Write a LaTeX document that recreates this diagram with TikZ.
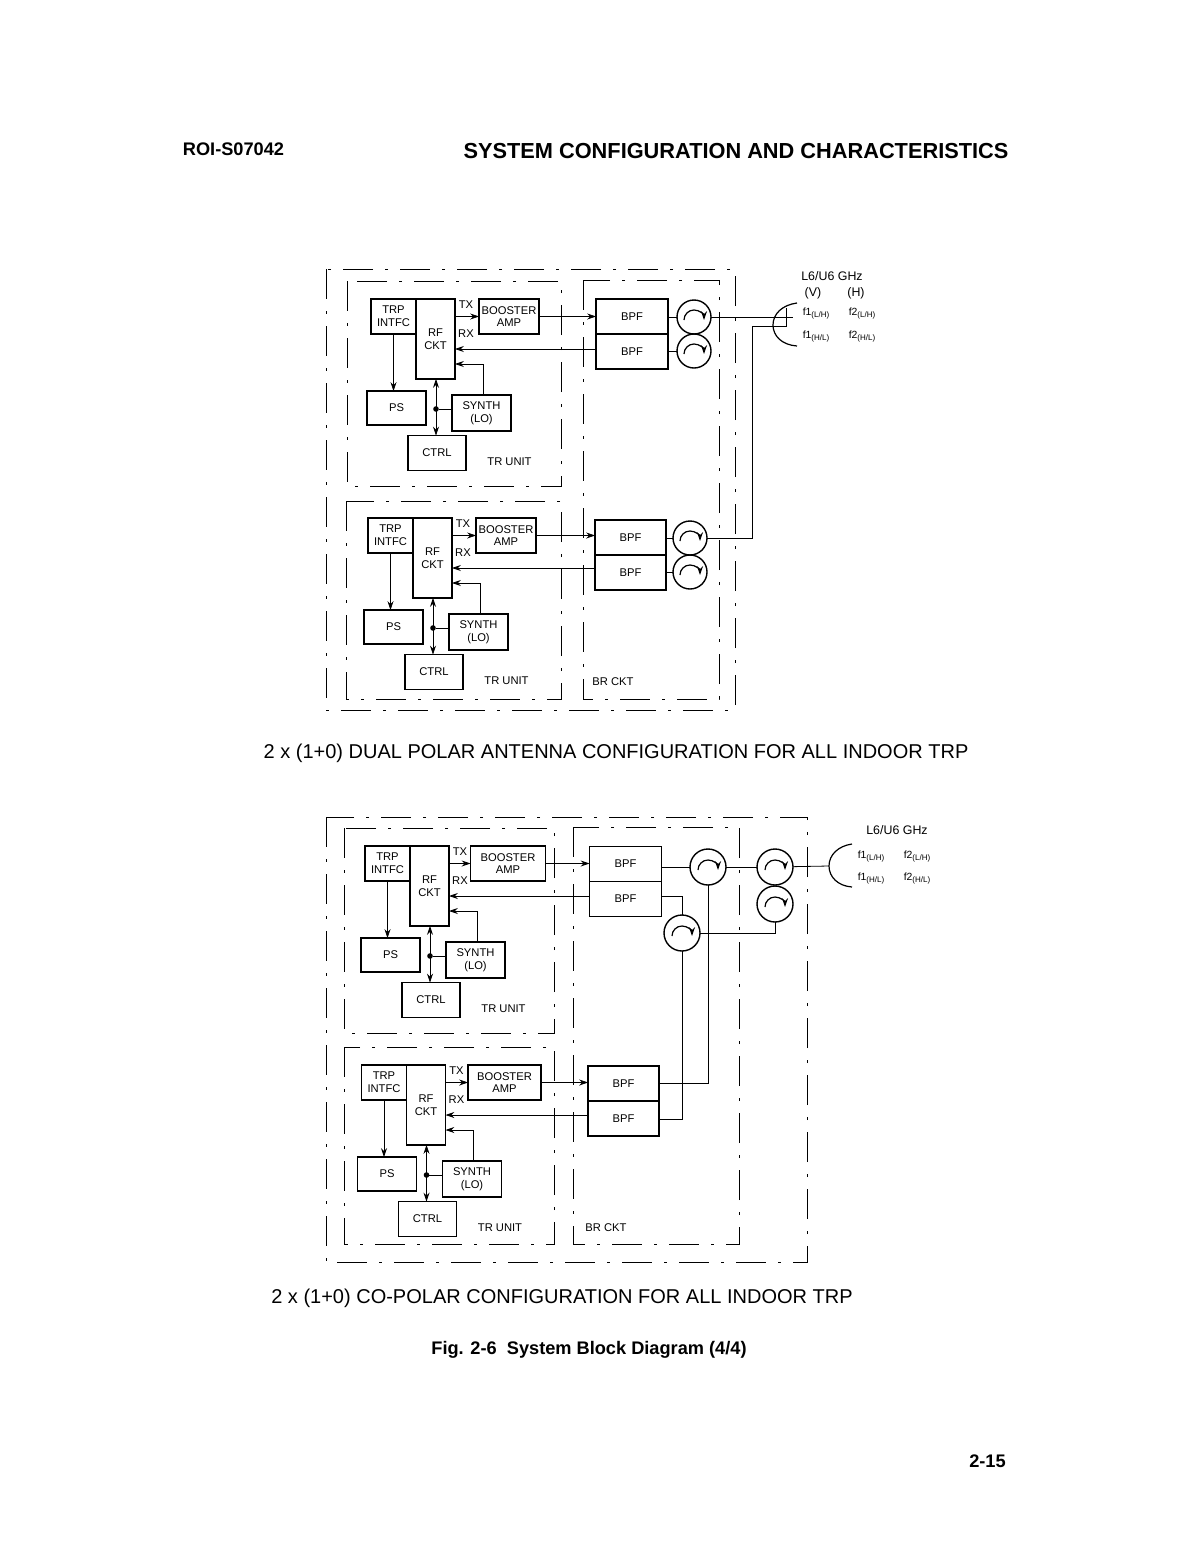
\documentclass[tikz,border=0pt]{standalone}
\usepackage{fontspec}
\setmainfont{Liberation Sans}
\usepackage{xcolor}
\usetikzlibrary{arrows.meta,calc}
\newcommand{\fsub}[2]{#1\raisebox{-1pt}{\fontsize{4}{5}\selectfont #2}}
\begin{document}
\begin{tikzpicture}[
  x=0.5pt, y=-0.5pt,
  >={Stealth[length=4.4pt,width=3pt]},
  every node/.style={inner sep=0pt, outer sep=0pt},
  box/.style={draw, line width=0.9pt, align=center, font=\fontsize{5.6}{6.4}\selectfont},
  filt/.style={box, minimum width=#1*0.5pt, minimum height=17.5pt},
  circu/.style={draw, circle, line width=0.7pt, minimum size=#1*1pt},
  dot/.style={fill, circle, minimum size=2.8pt},
  frame/.style={line width=0.45pt, dash pattern=on 15pt off 6pt on 1.5pt off 6pt},
  lab/.style={font=\fontsize{5.6}{6.4}\selectfont},
  freq/.style={font=\fontsize{5.2}{6}\selectfont},
  band/.style={font=\fontsize{6.2}{7}\selectfont},
  captext/.style={font=\fontsize{10}{11}\selectfont},
  headtext/.style={font=\bfseries\fontsize{9.1}{10}\selectfont},
  arr/.style={->},
  darr/.style={<->},
]
  \useasboundingbox (0,0) rectangle (1190,1563);

  % page texts
  \node[headtext] (docno) at (233.5,149) {ROI-S07042};
  \node[headtext, font=\bfseries\fontsize{10.88}{12}\selectfont] (title) at (736,151) {SYSTEM CONFIGURATION AND CHARACTERISTICS};
  \node[captext] (capa) at (616,753) {2 x (1+0) DUAL POLAR ANTENNA CONFIGURATION FOR ALL INDOOR TRP};
  \node[captext] (capb) at (562,1298) {2 x (1+0) CO-POLAR CONFIGURATION FOR ALL INDOOR TRP};
  \node[headtext] (fig) at (589,1350) {Fig. 2-6\ \ System Block Diagram (4/4)};
  \node[headtext] (pageno) at (987.5,1461) {2-15};

  % frames
  \draw[frame] (326,269) rectangle (735,710);
  \draw[frame] (347,281) rectangle (561,486);
  \draw[frame] (346,501) rectangle (561,699);
  \draw[frame] (583,280) rectangle (719,699);
  \draw[frame] (326,817) rectangle (807,1262);
  \draw[frame] (344,828) rectangle (554,1033);
  \draw[frame] (344,1047) rectangle (554,1244);
  \draw[frame] (573,827) rectangle (739,1244);

  % TR units with their BPF pairs
  \foreach \u/\dx/\dy/\bx/\bw/\fx/\fy/\fw in {
    a/0/0/509/60/632/316.5/72,
    b/-3/219/509/60/630.5/537.5/71,
    c/-6/547/514/75/625.5/864/72,
    d/-9.5/766/514/73/623.5/1083.5/71} {
    \begin{scope}[shift={(\dx,\dy)}]
      \node[box, minimum width=22.5pt, minimum height=17.5pt] (\u-trp) at (393.5,316.5) {TRP\\INTFC};
      \node[box, minimum width=19.5pt, minimum height=40pt] (\u-rf) at (435.5,339) {RF\\CKT};
      \node[box, minimum width=\bw*0.5pt, minimum height=17.5pt] (\u-boost) at (\bx,316.5) {BOOSTER\\AMP};
      \node[box, minimum width=29.5pt, minimum height=17pt] (\u-ps) at (396.5,408) {PS};
      \node[box, minimum width=29.5pt, minimum height=18pt] (\u-synth) at (481.5,413) {SYNTH\\(LO)};
      \node[box, minimum width=29pt, minimum height=17.5pt] (\u-ctrl) at (437,453) {CTRL};
      \node[lab] (\u-tx) at (466,305) {TX};
      \node[lab] (\u-rxl) at (466,334) {RX};
      \node[lab] (\u-name) at (509.5,462) {TR UNIT};
      \coordinate (\u-rx) at (455,349);
      \coordinate (\u-lo) at (455,364);
      \node[dot] (\u-dot) at (436,409) {};
    \end{scope}
    \node[filt=\fw] (\u-bpfa) at (\fx,\fy) {BPF};
    \node[filt=\fw] (\u-bpfb) at (\fx,\fy+35) {BPF};
    \draw[arr] (\u-rf.east |- \u-boost.west) -- (\u-boost.west);
    \draw[arr] (\u-boost.east) -- (\u-boost.east -| \u-bpfa.west);
    \draw[arr] (\u-bpfb.west |- \u-rx) -- (\u-rx);
    \draw[arr] ($(\u-synth.north)+(1.5,0)$) |- (\u-lo);
    \draw[arr] (\u-trp.south) -- (\u-trp.south |- \u-ps.north);
    \draw[darr] (\u-dot |- \u-rf.south) -- (\u-dot |- \u-ctrl.north);
    \draw (\u-dot) -- (\u-dot -| \u-synth.west);
  }

  % circulators
  \foreach \c/\px/\py/\rr in {
    ca/694/317/17, cb/694/351/17, cc/690/538/17, cd/690/572/17,
    ce/708/867/18, cf/775/867/18, cg/775/904/18, ch/682/933/18} {
    \node[circu=\rr] (\c) at (\px,\py) {};
    \draw[->, line width=0.6pt] ($(\c.center)+(-10,3)$) arc[start angle=180, end angle=360, radius=10];
  }

  % dual polar antenna
  \coordinate (diska) at (797,303);
  \coordinate (diskb) at (773,325);
  \coordinate (diskc) at (797,346);
  \coordinate (feeda) at (793,317);
  \coordinate (feedb) at (786,308);
  \coordinate (bend) at (752,326);
  \draw[line width=0.6pt] (diska) .. controls (782,305) and (773,314) .. (diskb) .. controls (773,336) and (782,345) .. (diskc);
  \draw (a-bpfa.east |- ca) -- (ca);
  \draw (a-bpfb.east |- cb) -- (cb);
  \draw (b-bpfa.east |- cc) -- (cc);
  \draw (b-bpfb.east |- cd) -- (cd);
  \draw (ca.east) -- (feeda);
  \draw (cc.east) -| (bend) -| (feedb);
  \node[band] (banda) at (832,276) {L6/U6 GHz};
  \node[band] (pola) at (813,293) {(V)};
  \node[band] (polb) at (856,293) {(H)};
  \node[freq] (fa) at (816,314) {\fsub{f1}{(L/H)}};
  \node[freq] (fb) at (862,314) {\fsub{f2}{(L/H)}};
  \node[freq] (fc) at (816,337) {\fsub{f1}{(H/L)}};
  \node[freq] (fd) at (862,337) {\fsub{f2}{(H/L)}};
  \node[lab] (brcka) at (613,682) {BR CKT};

  % co-polar antenna
  \coordinate (diskd) at (852,844);
  \coordinate (diske) at (829,866);
  \coordinate (diskf) at (852,887);
  \draw[line width=0.6pt] (diskd) .. controls (838,846) and (829,855) .. (diske) .. controls (829,877) and (838,886) .. (diskf);
  \draw (c-bpfa.east |- ce) -- (ce);
  \draw (ce) -- (cf);
  \draw (cf) -- (diske);
  \draw ($(c-bpfb.east)+(0,-3)$) -| (ch.north);
  \draw (ch.east) -| (cg.south);
  \draw (ce.south) |- (d-bpfa.east);
  \draw (ch.south) |- ($(d-bpfb.east)+(0,1)$);
  \node[band] (bandb) at (897,830) {L6/U6 GHz};
  \node[freq] (fe) at (871,857) {\fsub{f1}{(L/H)}};
  \node[freq] (ff) at (917,857) {\fsub{f2}{(L/H)}};
  \node[freq] (fg) at (871,879) {\fsub{f1}{(H/L)}};
  \node[freq] (fh) at (917,879) {\fsub{f2}{(H/L)}};
  \node[lab] (brckb) at (606,1228) {BR CKT};
\end{tikzpicture}
\end{document}
